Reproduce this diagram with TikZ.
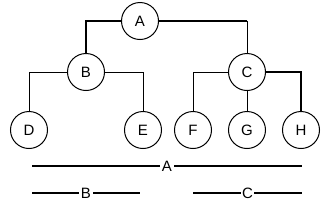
\documentclass[tikz,border=0pt]{standalone}
\usepackage{fontspec}
\setmainfont{Liberation Sans}
\begin{document}
\begin{tikzpicture}[x=1pt,y=-1pt,
        vertex/.style={draw,circle,minimum size=37pt,inner sep=0pt,line width=1pt,font=\fontsize{15}{17}\selectfont},
        thin edge/.style={line width=1pt},
        thick edge/.style={line width=2pt},
        span/.style={line width=2pt},
        spanlabel/.style={fill=white,inner sep=1.5pt,font=\fontsize{15}{17}\selectfont}]
    \useasboundingbox (0,0) rectangle (333,210);
    \node[vertex] (A) at (140,21) {A};
    \node[vertex] (B) at (86,72) {B};
    \node[vertex] (C) at (247,72) {C};
    \foreach \x/\name in {29/D,143/E,193/F,247/G,301/H}
        \node[vertex] (\name) at (\x,130) {\name};
    \coordinate (AC) at (A -| C);
    \draw[thick edge] (A) -| (B);
    \draw[thick edge] (A) -- (AC);
    \draw[thin edge] (AC) -- (C);
    \draw[thin edge] (B) -| (D);
    \draw[thin edge] (B) -| (E);
    \draw[thin edge] (C) -| (F);
    \draw[thin edge] (C) -- (G);
    \draw[thick edge] (C) -| (H);
    % spans under the tree
    \coordinate (spanAl) at (32,166);
    \coordinate (spanAr) at (302,166);
    \coordinate (spanBl) at (32,193);
    \coordinate (spanBr) at (140,193);
    \coordinate (spanCl) at (193,193);
    \coordinate (spanCr) at (302,193);
    \draw[span] (spanAl) -- node[spanlabel] {A} (spanAr);
    \draw[span] (spanBl) -- node[spanlabel] {B} (spanBr);
    \draw[span] (spanCl) -- node[spanlabel] {C} (spanCr);
\end{tikzpicture}
\end{document}
